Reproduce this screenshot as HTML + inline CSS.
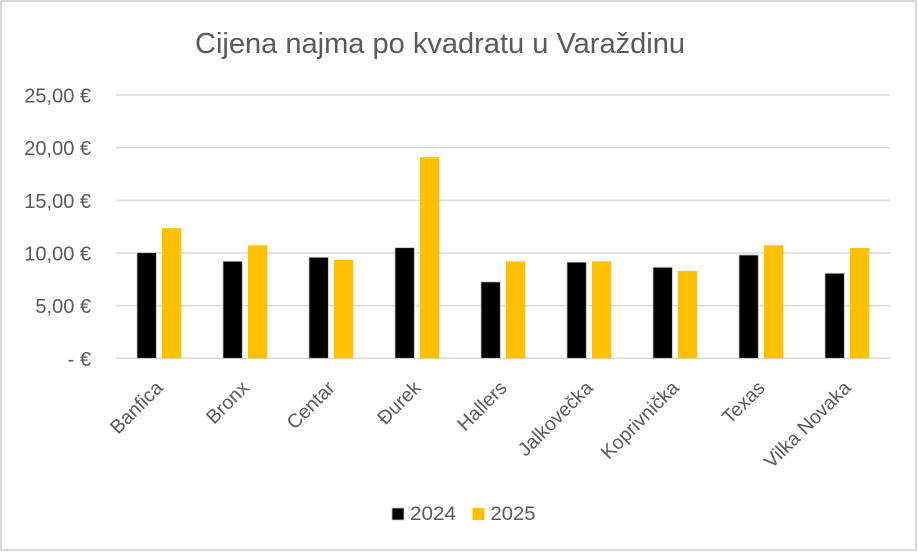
<!DOCTYPE html>
<html>
<head>
<meta charset="utf-8">
<style>
  html, body { margin: 0; padding: 0; background: #ffffff; }
  svg { display: block; }
  text { font-family: "Liberation Sans", "DejaVu Sans", sans-serif; fill: #595959; }
</style>
</head>
<body>
<svg width="918" height="552" viewBox="0 0 918 552" xmlns="http://www.w3.org/2000/svg">
  <rect x="0" y="0" width="918" height="552" fill="#ffffff"/>
  <rect x="1" y="1" width="915" height="549" fill="none" stroke="#d9d9d9" stroke-width="2"/>

  <!-- Title -->
  <text x="195" y="53" font-size="28.5" textLength="490" lengthAdjust="spacingAndGlyphs">Cijena najma po kvadratu u Varaždinu</text>

  <!-- Gridlines -->
  <g stroke="#d9d9d9" stroke-width="1.5">
    <line x1="116" y1="95" x2="890" y2="95"/>
    <line x1="116" y1="147.66" x2="890" y2="147.66"/>
    <line x1="116" y1="200.32" x2="890" y2="200.32"/>
    <line x1="116" y1="252.98" x2="890" y2="252.98"/>
    <line x1="116" y1="305.64" x2="890" y2="305.64"/>
    <line x1="116" y1="358.3" x2="890" y2="358.3"/>
  </g>

  <!-- Y labels -->
  <g font-size="20" text-anchor="end">
    <text x="91" y="102.5">25,00 €</text>
    <text x="91" y="155.2">20,00 €</text>
    <text x="91" y="207.8">15,00 €</text>
    <text x="91" y="260.5">10,00 €</text>
    <text x="91" y="313.1">5,00 €</text>
    <text x="91" y="365.8">- €</text>
  </g>

  <!-- Bars 2024 (black) -->
  <g fill="#000000" stroke="#bfbfbf" stroke-width="0.8">
    <rect x="137" y="252.7" width="19.3" height="105.6"/>
    <rect x="223" y="261.3" width="19.3" height="97.0"/>
    <rect x="309" y="257.3" width="19.3" height="101.0"/>
    <rect x="395" y="247.7" width="19.3" height="110.6"/>
    <rect x="481" y="281.9" width="19.3" height="76.4"/>
    <rect x="567" y="262.2" width="19.3" height="96.1"/>
    <rect x="653" y="267.3" width="19.3" height="91.0"/>
    <rect x="739" y="255.0" width="19.3" height="103.3"/>
    <rect x="825" y="273.3" width="19.3" height="85.0"/>
  </g>

  <!-- Bars 2025 (yellow) -->
  <g fill="#ffc000">
    <rect x="162" y="228.2" width="19.3" height="130.1"/>
    <rect x="248" y="245.3" width="19.3" height="113.0"/>
    <rect x="334" y="260.0" width="19.3" height="98.3"/>
    <rect x="420" y="157.2" width="19.3" height="201.1"/>
    <rect x="506" y="261.3" width="19.3" height="97.0"/>
    <rect x="592" y="261.3" width="19.3" height="97.0"/>
    <rect x="678" y="271.0" width="19.3" height="87.3"/>
    <rect x="764" y="245.3" width="19.3" height="113.0"/>
    <rect x="850" y="248.0" width="19.3" height="110.3"/>
  </g>

  <!-- X labels -->
  <g font-size="19.5" text-anchor="end">
    <text transform="translate(164,389) rotate(-45)">Banfica</text>
    <text transform="translate(250,389) rotate(-45)">Bronx</text>
    <text transform="translate(336,389) rotate(-45)">Centar</text>
    <text transform="translate(422,389) rotate(-45)">Đurek</text>
    <text transform="translate(508,389) rotate(-45)">Hallers</text>
    <text transform="translate(594,389) rotate(-45)">Jalkovečka</text>
    <text transform="translate(680,389) rotate(-45)">Koprivnička</text>
    <text transform="translate(766,389) rotate(-45)">Texas</text>
    <text transform="translate(852,389) rotate(-45)">Vilka Novaka</text>
  </g>

  <!-- Legend -->
  <rect x="392" y="508" width="12" height="12" fill="#000000" stroke="#bfbfbf" stroke-width="0.8"/>
  <text x="410" y="520" font-size="19" textLength="46" lengthAdjust="spacingAndGlyphs">2024</text>
  <rect x="472.5" y="508" width="12" height="12" fill="#ffc000"/>
  <text x="490.5" y="520" font-size="19" textLength="45" lengthAdjust="spacingAndGlyphs">2025</text>
</svg>
</body>
</html>
